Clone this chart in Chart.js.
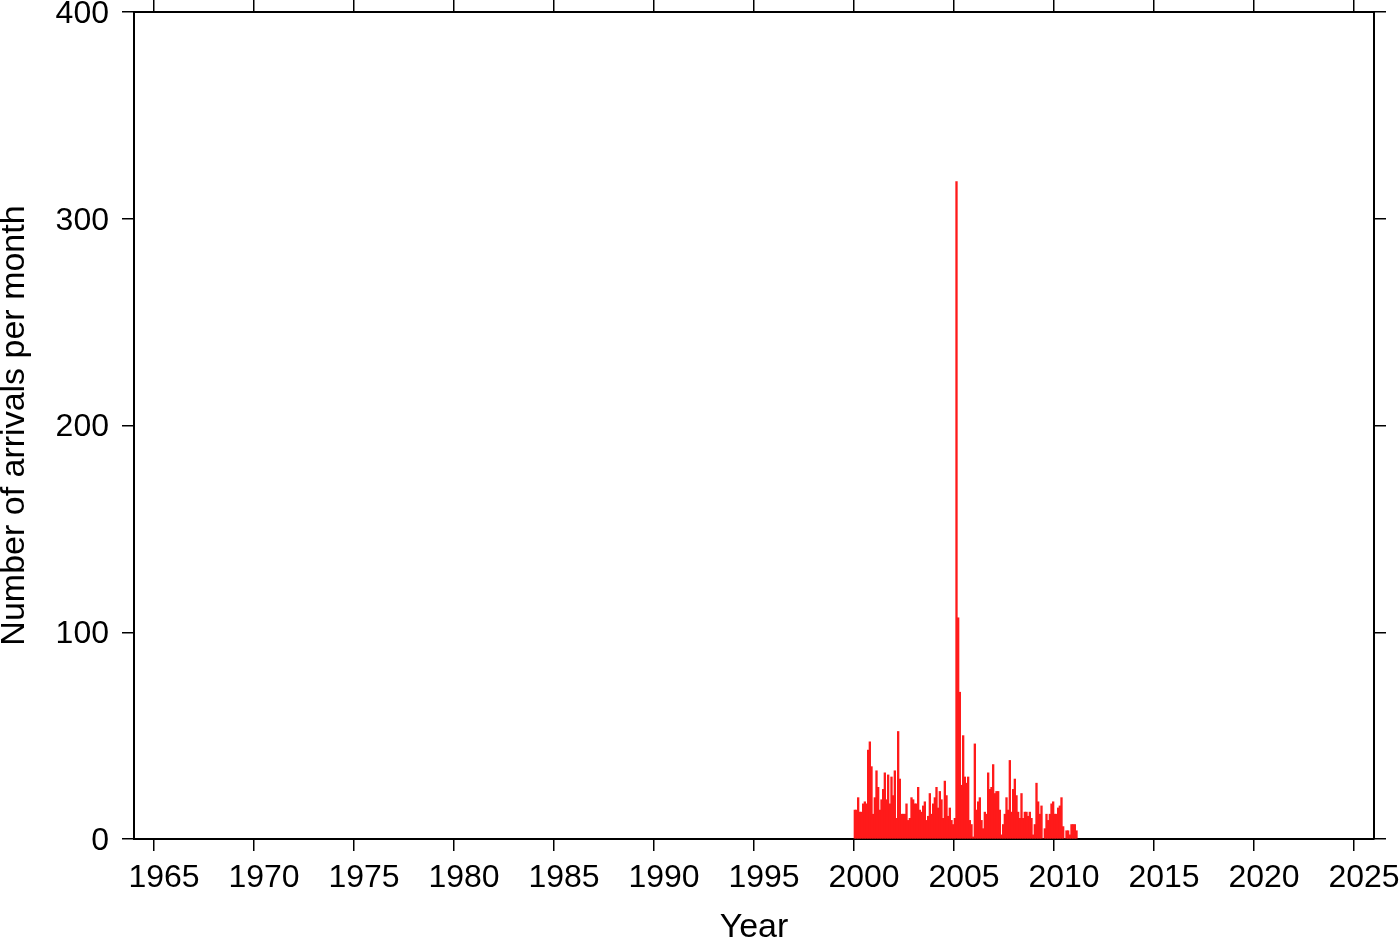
<!DOCTYPE html>
<html lang="en">
<head>
    <meta charset="UTF-8">
    <title>Arrivals per month</title>
    <script src="https://cdn.jsdelivr.net/npm/chart.js"></script>
    <style>
        html, body { margin: 0; padding: 0; background: #fff; }
        canvas { display: block; }
    </style>
</head>
<body>
    <canvas id="myChart" width="1400" height="942"></canvas>

    <script type="text/javascript">
        // monthly arrival counts, starting January 2000
        var startYear = 2000;
        var arrivals = [
            14, 14, 20, 13, 13, 17, 18, 17, 43, 47, 35, 12, 20, 33, 25, 14, 19, 24, 32, 19,
            31, 17, 30, 21, 33, 10, 52, 29, 12, 12, 12, 17, 9, 10,
            20, 19, 17, 17, 25, 14, 13, 16, 18, 9, 11, 22, 12, 17, 20, 25, 15, 23, 19, 10,
            28, 21, 11, 15, 9, 7, 10,
            318, 107, 71, 26, 50, 30, 27, 30, 9, 7, 1, 46, 14, 18, 20, 9, 5, 13, 12, 32,
            24, 25, 36, 22, 23, 23, 14, 2, 7, 12, 20, 14, 38, 13, 24, 29, 21, 13,
            10, 22, 10, 13, 13, 11, 13, 10, 2, 7, 27, 18, 12, 16, 0, 5, 12, 9, 12, 17,
            18, 12, 12, 15, 16, 20, 6, 0, 4, 4, 2, 7, 7, 7, 4
        ];
        var yearTicks = [1965, 1970, 1975, 1980, 1985, 1990, 1995, 2000, 2005, 2010, 2015, 2020, 2025];
        var countTicks = [0, 100, 200, 300, 400];

        var months = arrivals.map(function (v, i) { return startYear + (i + 0.5) / 12; });
        var points = arrivals.map(function (v, i) { return { x: months[i], y: v }; });

        var family = "'Liberation Sans', Helvetica, Arial, sans-serif";
        var tickFont = { family: family, size: 32 };
        var tickGrid = { offset: false, drawOnChartArea: false, drawTicks: true, tickLength: 12, color: '#000', lineWidth: 1.5 };
        var frame = { display: true, color: '#000', width: 2 };

        function setTicks(list) {
            return function (scale) {
                scale.ticks = list.map(function (v) { return { value: v }; });
            };
        }
        // pin the axis box size and drop the label overflow padding
        function fixSize(prop, size) {
            return function (scale) {
                scale[prop] = size;
                scale.paddingTop = 0;
                scale.paddingBottom = 0;
                scale.paddingLeft = 0;
                scale.paddingRight = 0;
            };
        }

        var ctx = document.querySelector('#myChart');
        new Chart(ctx, {
            type: 'bar',
            data: {
                datasets: [
                    {
                        label: 'Arrivals',
                        data: points,
                        backgroundColor: '#ff1a1a',
                        borderWidth: 0,
                        barPercentage: 1.0,
                        categoryPercentage: 1.0,
                        xAxisID: 'x',
                        yAxisID: 'y'
                    }
                ]
            },
            options: {
                responsive: false,
                animation: false,
                devicePixelRatio: 1,
                layout: { padding: 0 },
                plugins: {
                    legend: { display: false },
                    tooltip: { enabled: false }
                },
                scales: {
                    x: {
                        type: 'linear',
                        position: 'bottom',
                        min: 1964,
                        max: 2026,
                        offset: false,
                        afterBuildTicks: setTicks(yearTicks),
                        afterFit: fixSize('height', 103),
                        grid: tickGrid,
                        border: frame,
                        ticks: {
                            color: '#000',
                            font: tickFont,
                            padding: 8,
                            labelOffset: 10,
                            maxRotation: 0,
                            autoSkip: false,
                            callback: function (v) { return String(v); }
                        },
                        title: {
                            display: true,
                            text: 'Year',
                            color: '#000',
                            font: { family: family, size: 34, lineHeight: 0.85 },
                            padding: 0
                        }
                    },
                    x2: {
                        type: 'linear',
                        position: 'top',
                        min: 1964,
                        max: 2026,
                        offset: false,
                        afterBuildTicks: setTicks(yearTicks),
                        afterFit: fixSize('height', 12),
                        grid: tickGrid,
                        border: frame,
                        ticks: { display: false }
                    },
                    y: {
                        type: 'linear',
                        position: 'left',
                        min: 0,
                        max: 400,
                        afterBuildTicks: setTicks(countTicks),
                        afterFit: fixSize('width', 134),
                        grid: tickGrid,
                        border: frame,
                        ticks: {
                            color: '#000',
                            font: tickFont,
                            padding: 13,
                            labelOffset: 2
                        },
                        title: {
                            display: true,
                            text: 'Number of arrivals per month',
                            color: '#000',
                            font: { family: family, size: 34, lineHeight: 0.85 },
                            padding: 0
                        }
                    },
                    y2: {
                        type: 'linear',
                        position: 'right',
                        min: 0,
                        max: 400,
                        afterBuildTicks: setTicks(countTicks),
                        afterFit: fixSize('width', 26),
                        grid: tickGrid,
                        border: frame,
                        ticks: { display: false }
                    }
                }
            }
        });
    </script>
</body>
</html>
